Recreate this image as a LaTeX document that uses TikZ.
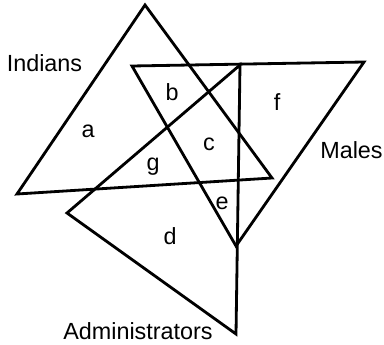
\documentclass[tikz,border=0pt]{standalone}
\usepackage{fontspec}
\setmainfont{Liberation Sans}
\begin{document}
\begin{tikzpicture}[x=0.02cm,y=-0.02cm,line join=miter,
    side/.style={line width=1.6pt},
    lbl/.style={font=\fontsize{13.3}{16}\selectfont, inner sep=0pt}]
      \useasboundingbox (0,0) rectangle (384,344);
      % Indians
      \draw[side] (145,5) -- (17,194) -- (272,178) -- cycle;
      % Males
      \draw[side] (132,66) -- (364,62) -- (236,246) -- cycle;
      % Administrators
      \draw[side] (240,65) -- (67,213) -- (236,334) -- cycle;
      \node[lbl, anchor=base] (indians) at (44.5,72) {Indians};
      \node[lbl, anchor=base] (males) at (351.5,158) {Males};
      \node[lbl, anchor=base] (admin) at (138,339) {Administrators};
      \node[lbl] (a) at (88,131) {a};
      \node[lbl] (b) at (172,92.5) {b};
      \node[lbl] (c) at (209,144) {c};
      \node[lbl] (d) at (170,236) {d};
      \node[lbl] (e) at (222,203) {e};
      \node[lbl] (f) at (277,102) {f};
      \node[lbl] (g) at (153,167) {g};
    \end{tikzpicture}
\end{document}
